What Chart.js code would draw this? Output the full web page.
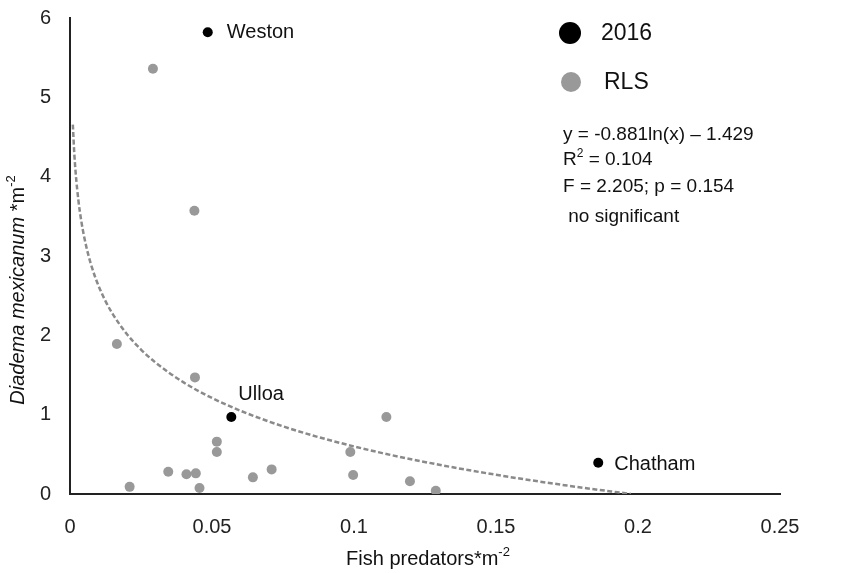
<!DOCTYPE html>
<html>
<head>
<meta charset="utf-8">
<title>Diadema mexicanum vs fish predators</title>
<script src="https://cdn.jsdelivr.net/npm/chart.js@4.4.1/dist/chart.umd.min.js"></script>
<style>
    body { margin: 0; background: #fff; }
    #myChart { display: block; }
</style>
</head>
<body>
<canvas id="myChart" width="841" height="573"></canvas>
<script>
// 데이터 (sites 2016)
const sites2016 = ['Weston', 'Ulloa', 'Chatham'];
const x2016 = [0.0485, 0.0568, 0.186];
const y2016 = [5.82, 0.97, 0.395];

// RLS
const xRLS = [0.0292, 0.0438, 0.0165, 0.044, 0.0517, 0.0517, 0.0346, 0.041, 0.0443,
              0.021, 0.0456, 0.0644, 0.071, 0.1114, 0.0987, 0.0997, 0.1197, 0.1288];
const yRLS = [5.36, 3.57, 1.89, 1.47, 0.66, 0.53, 0.28, 0.25, 0.26,
              0.09, 0.075, 0.21, 0.31, 0.97, 0.53, 0.24, 0.16, 0.04];

// log trendline y = a*ln(x) + b
const trendA = -0.881;
const trendB = -1.429;
const trendX = [0.001, 0.0015, 0.002, 0.003, 0.004, 0.005, 0.0065, 0.008, 0.01, 0.0125, 0.015,
                0.02, 0.025, 0.03, 0.04, 0.05, 0.06, 0.075, 0.09, 0.11, 0.13, 0.15, 0.175, 0.1975];

const xTicks = [0, 0.05, 0.1, 0.15, 0.2, 0.25];
const yTicks = [0, 1, 2, 3, 4, 5, 6];

const statLines = ['y = -0.881ln(x) \u2013 1.429', 'R2 = 0.104', 'F = 2.205; p = 0.154', ' no significant'];

const FONT = '"Liberation Sans", Arial, sans-serif';

const pts = (xs, ys) => xs.map((v, i) => ({ x: v, y: ys[i] }));

// 라벨, 범례, 축 제목
const annotate = {
    id: 'annotate',
    afterDatasetsDraw(chart) {
        const ctx = chart.ctx;
        ctx.save();
        ctx.fillStyle = '#111';
        ctx.textBaseline = 'middle';
        ctx.textAlign = 'left';

        // site names
        ctx.font = '20px ' + FONT;
        const meta = chart.getDatasetMeta(0);
        const offsets = [[19, 0], [7, -23], [16, 2]];
        meta.data.forEach((el, i) => {
            ctx.fillText(sites2016[i], el.x + offsets[i][0], el.y + offsets[i][1]);
        });

        // legend
        ctx.beginPath();
        ctx.arc(570, 33, 11, 0, Math.PI * 2);
        ctx.fillStyle = '#000';
        ctx.fill();
        ctx.beginPath();
        ctx.arc(571, 82, 10, 0, Math.PI * 2);
        ctx.fillStyle = '#999';
        ctx.fill();
        ctx.fillStyle = '#111';
        ctx.font = '23px ' + FONT;
        ctx.fillText('2016', 601, 34);
        ctx.fillText('RLS', 604, 83);

        // statistics
        ctx.font = '19px ' + FONT;
        const ys = [135, 160, 187, 217];
        ctx.fillText(statLines[0], 563, ys[0]);
        ctx.fillText('R', 563, ys[1]);
        let w = ctx.measureText('R').width;
        ctx.font = '12px ' + FONT;
        ctx.fillText('2', 563 + w, ys[1] - 6);
        const w2 = ctx.measureText('2').width;
        ctx.font = '19px ' + FONT;
        ctx.fillText(' = 0.104', 563 + w + w2, ys[1]);
        ctx.fillText(statLines[2], 563, ys[2]);
        ctx.fillText(statLines[3], 563, ys[3]);

        // x title
        ctx.font = '20px ' + FONT;
        const t1 = 'Fish predators*m';
        const tw = ctx.measureText(t1).width;
        ctx.font = '13px ' + FONT;
        const sw = ctx.measureText('-2').width;
        let sx = 428 - (tw + sw) / 2;
        ctx.font = '20px ' + FONT;
        ctx.fillText(t1, sx, 559);
        ctx.font = '13px ' + FONT;
        ctx.fillText('-2', sx + tw, 552);

        // y title
        ctx.translate(18, 290);
        ctx.rotate(-Math.PI / 2);
        ctx.font = 'italic 20px ' + FONT;
        const p1 = 'Diadema mexicanum';
        const p1w = ctx.measureText(p1).width;
        ctx.font = '20px ' + FONT;
        const p2 = ' *m';
        const p2w = ctx.measureText(p2).width;
        ctx.font = '13px ' + FONT;
        const p3w = ctx.measureText('-2').width;
        let px = -(p1w + p2w + p3w) / 2;
        ctx.font = 'italic 20px ' + FONT;
        ctx.fillText(p1, px, 0);
        ctx.font = '20px ' + FONT;
        ctx.fillText(p2, px + p1w, 0);
        ctx.font = '13px ' + FONT;
        ctx.fillText('-2', px + p1w + p2w, -7);
        ctx.restore();
    }
};

const mct = document.getElementById('myChart');

const data = {
    datasets: [{
        label: '2016',
        data: pts(x2016, y2016),
        backgroundColor: '#000',
        borderColor: '#000',
        pointRadius: 5,
        borderWidth: 0
    }, {
        label: 'RLS',
        data: pts(xRLS, yRLS),
        backgroundColor: '#999',
        borderColor: '#999',
        pointRadius: 5,
        borderWidth: 0
    }, {
        label: 'trend',
        type: 'line',
        data: trendX.map(v => ({ x: v, y: trendA * Math.log(v) + trendB })),
        borderColor: '#8a8a8a',
        borderWidth: 2.5,
        borderDash: [5, 2.5],
        pointRadius: 0,
        fill: false,
        cubicInterpolationMode: 'monotone'
    }]
};

const config = {
    type: 'scatter',
    data: data,
    options: {
        responsive: false,
        animation: false,
        layout: { padding: { top: 18, right: 61, left: 0, bottom: 0 } },
        plugins: {
            legend: { display: false },
            tooltip: { enabled: false }
        },
        scales: {
            x: {
                type: 'linear',
                min: 0,
                max: 0.25,
                afterFit: (s) => { s.height = 79; },
                afterBuildTicks: (s) => { s.ticks = xTicks.map(v => ({ value: v })); },
                grid: { display: false },
                border: { display: true, color: '#222', width: 2 },
                ticks: {
                    padding: 13,
                    color: '#222',
                    font: { family: FONT, size: 20 },
                    callback: (v) => String(v)
                }
            },
            y: {
                min: 0,
                max: 6,
                afterFit: (s) => { s.width = 70; s.paddingTop = 0; s.paddingBottom = 0; },
                afterBuildTicks: (s) => { s.ticks = yTicks.map(v => ({ value: v })); },
                grid: { display: false },
                border: { display: true, color: '#222', width: 2 },
                ticks: {
                    padding: 11,
                    color: '#222',
                    font: { family: FONT, size: 20 }
                }
            }
        }
    },
    plugins: [annotate]
};

const myChart = new Chart(mct, config);
</script>
</body>
</html>
